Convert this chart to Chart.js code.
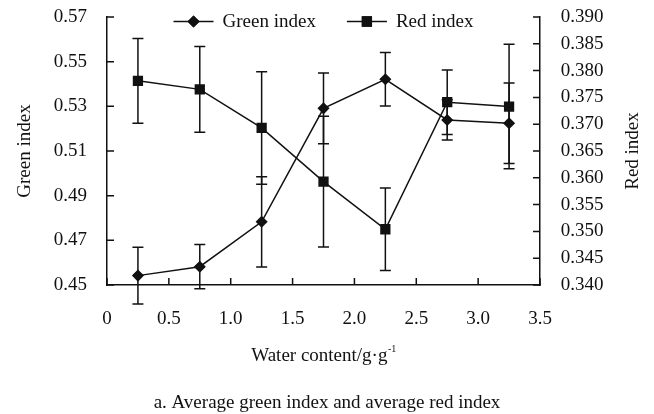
<!DOCTYPE html>
<html>
<head>
<meta charset="utf-8">
<script src="https://cdn.jsdelivr.net/npm/chart.js@4"></script>
<style>
  html, body { margin: 0; padding: 0; background: #fff; }
  #wrap { width: 654px; height: 414px; }
</style>
</head>
<body>
<div id="wrap"><canvas id="chartIndex" width="654" height="414"></canvas></div>
<script>
// water content (g/g) and the two colour indices with their error bars
const waterContent = [0.25, 0.75, 1.25, 1.75, 2.25, 2.75, 3.25];
const greenIndex = [0.4542, 0.4582, 0.4783, 0.5291, 0.5421, 0.5239, 0.5224];
const greenErr   = [0.0127, 0.0099, 0.0202, 0.0158, 0.0120, 0.0090, 0.0180];
const redIndex   = [0.3781, 0.3765, 0.3693, 0.3593, 0.3504, 0.3741, 0.3733];
const redErr     = [0.0079, 0.0080, 0.0105, 0.0122, 0.0077, 0.0060, 0.0116];

const xTicks = [0, 0.5, 1.0, 1.5, 2.0, 2.5, 3.0, 3.5];
const greenTicks = [0.45, 0.47, 0.49, 0.51, 0.53, 0.55, 0.57];
const redTicks = [0.340, 0.345, 0.350, 0.355, 0.360, 0.365, 0.370, 0.375, 0.380, 0.385, 0.390];

const INK = '#111';
const FAMILY = '"Liberation Serif", "Times New Roman", serif';
const FONT = { family: FAMILY, size: 19, weight: 'normal' };

const toPoints = (ys) => ys.map((y, i) => ({ x: waterContent[i], y: y }));
const setTicks = (vals) => (scale) => { scale.ticks = vals.map(v => ({ value: v })); };
// fixed axis width; drop the label overhang so the plot runs up to the top padding
const fixWidth = (w) => (s) => { s.width = w; s.paddingTop = 0; s.paddingBottom = 0; };

// vertical error bars with caps, drawn under the markers
const errorBars = {
  id: 'errorBars',
  beforeDatasetsDraw(chart) {
    const { ctx } = chart;
    const xs = chart.scales.x;
    const errs = [greenErr, redErr];
    ctx.save();
    ctx.strokeStyle = INK;
    ctx.lineWidth = 1.5;
    chart.data.datasets.forEach((ds, d) => {
      const ys = chart.scales[ds.yAxisID];
      ds.data.forEach((p, i) => {
        const px = xs.getPixelForValue(p.x);
        const top = ys.getPixelForValue(p.y + errs[d][i]);
        const bot = ys.getPixelForValue(p.y - errs[d][i]);
        ctx.beginPath();
        ctx.moveTo(px, top); ctx.lineTo(px, bot);
        ctx.moveTo(px - 5.5, top); ctx.lineTo(px + 5.5, top);
        ctx.moveTo(px - 5.5, bot); ctx.lineTo(px + 5.5, bot);
        ctx.stroke();
      });
    });
    ctx.restore();
  }
};

// tick marks pointing into the plot, axis titles, legend inside the plot
const decorations = {
  id: 'decorations',
  afterDraw(chart) {
    const { ctx, chartArea: a } = chart;
    const len = 7;
    ctx.save();
    ctx.strokeStyle = INK;
    ctx.lineWidth = 1.5;
    ctx.beginPath();
    chart.scales.x.ticks.forEach(t => {
      const px = chart.scales.x.getPixelForValue(t.value);
      ctx.moveTo(px, a.bottom); ctx.lineTo(px, a.bottom - len);
    });
    chart.scales.yL.ticks.forEach(t => {
      const py = chart.scales.yL.getPixelForValue(t.value);
      ctx.moveTo(a.left, py); ctx.lineTo(a.left + len, py);
    });
    chart.scales.yR.ticks.forEach(t => {
      const py = chart.scales.yR.getPixelForValue(t.value);
      ctx.moveTo(a.right, py); ctx.lineTo(a.right - len, py);
    });
    ctx.stroke();

    ctx.font = FONT.size + 'px ' + FAMILY;
    ctx.fillStyle = INK;
    ctx.textBaseline = 'middle';

    // right axis title, reading bottom to top
    ctx.save();
    ctx.translate(633, (a.top + a.bottom) / 2);
    ctx.rotate(-Math.PI / 2);
    ctx.textAlign = 'center';
    ctx.fillText('Red index', 0, 0);
    ctx.restore();

    // x axis title with a small superscript
    const main = 'Water content/g·g';
    const sup = '-1';
    const mw = ctx.measureText(main).width;
    ctx.font = '10px ' + FAMILY;
    const sw = ctx.measureText(sup).width;
    const tx = (a.left + a.right) / 2 - (mw + sw) / 2;
    ctx.textAlign = 'left';
    ctx.font = FONT.size + 'px ' + FAMILY;
    ctx.fillText(main, tx, 356);
    ctx.font = '10px ' + FAMILY;
    ctx.fillText(sup, tx + mw + 0.5, 349);

    // legend
    ctx.font = FONT.size + 'px ' + FAMILY;
    const lineW = 40, gap = 9, spacing = 31;
    const items = chart.data.datasets.map(ds => ({ ds, w: lineW + gap + ctx.measureText(ds.label).width }));
    const total = items.reduce((s, it) => s + it.w, 0) + spacing * (items.length - 1);
    let x = (a.left + a.right) / 2 - total / 2;
    const y = a.top + 4.5;
    items.forEach(it => {
      ctx.beginPath();
      ctx.lineWidth = 1.5;
      ctx.moveTo(x, y); ctx.lineTo(x + lineW, y);
      ctx.stroke();
      ctx.fillStyle = INK;
      Chart.helpers.drawPoint(ctx, {
        pointStyle: it.ds.pointStyle, radius: it.ds.pointRadius, rotation: 0, borderWidth: 1
      }, x + lineW / 2, y);
      ctx.fill();
      ctx.stroke();
      ctx.fillText(it.ds.label, x + lineW + gap, y + 1);
      x += it.w + spacing;
    });
    ctx.restore();
  }
};

new Chart(document.getElementById('chartIndex'), {
  type: 'line',
  data: {
    datasets: [{
      label: 'Green index',
      data: toPoints(greenIndex),
      yAxisID: 'yL',
      borderColor: INK,
      borderWidth: 1.5,
      pointStyle: 'rectRot',
      pointRadius: 5,
      pointBackgroundColor: INK,
      pointBorderColor: INK,
      tension: 0
    }, {
      label: 'Red index',
      data: toPoints(redIndex),
      yAxisID: 'yR',
      borderColor: INK,
      borderWidth: 1.5,
      pointStyle: 'rect',
      pointRadius: 6.2,
      pointBackgroundColor: INK,
      pointBorderColor: INK,
      tension: 0
    }]
  },
  options: {
    responsive: false,
    animation: false,
    layout: { padding: { top: 17, left: 0, right: 0, bottom: 0 } },
    plugins: {
      legend: { display: false },
      tooltip: { enabled: false },
      title: {
        display: true,
        position: 'bottom',
        text: 'a. Average green index and average red index',
        color: INK,
        font: FONT,
        padding: { top: 0, bottom: 0 }
      }
    },
    scales: {
      x: {
        type: 'linear',
        min: 0,
        max: 3.5,
        afterBuildTicks: setTicks(xTicks),
        afterFit: (s) => { s.height = 106.2; },
        grid: { display: false },
        border: { color: INK, width: 1.5 },
        ticks: {
          color: INK, font: FONT, padding: 15, maxRotation: 0,
          callback: (v) => (v === 0 ? '0' : v.toFixed(1))
        }
      },
      yL: {
        position: 'left',
        min: 0.45,
        max: 0.57,
        afterBuildTicks: setTicks(greenTicks),
        afterFit: fixWidth(107),
        grid: { display: false },
        border: { color: INK, width: 1.5 },
        ticks: { color: INK, font: FONT, padding: 12, callback: (v) => v.toFixed(2) },
        title: {
          display: true,
          text: 'Green index',
          color: INK,
          font: FONT,
          padding: { top: 13.6, bottom: 0 }
        }
      },
      yR: {
        position: 'right',
        min: 0.34,
        max: 0.39,
        afterBuildTicks: setTicks(redTicks),
        afterFit: fixWidth(114),
        grid: { display: false },
        border: { color: INK, width: 1.5 },
        ticks: { color: INK, font: FONT, padding: 12.7, callback: (v) => v.toFixed(3) }
      }
    }
  },
  plugins: [errorBars, decorations]
});
</script>
</body>
</html>
